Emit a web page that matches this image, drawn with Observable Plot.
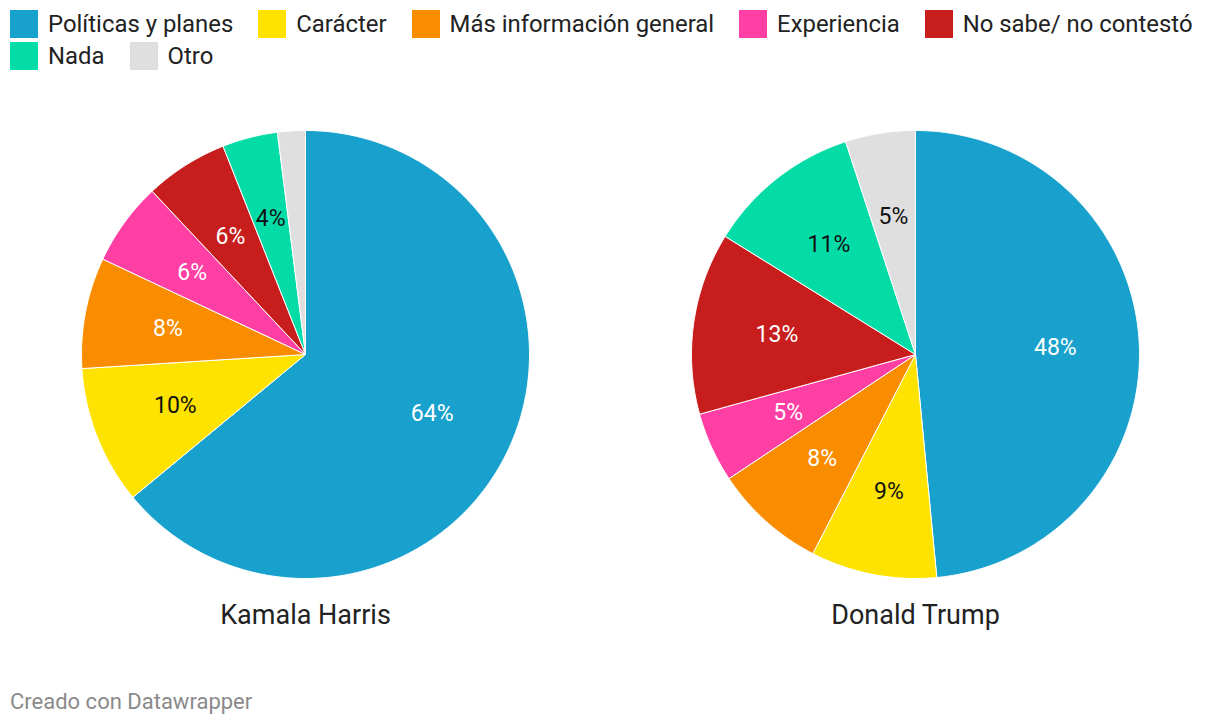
<!DOCTYPE html>
<html>
<head>
<meta charset="utf-8">
<script src="https://cdn.jsdelivr.net/npm/d3@7"></script>
<script src="https://cdn.jsdelivr.net/npm/@observablehq/plot@0.6"></script>
<style>
  body { margin: 0; background: #fff; font-family: Roboto, "Noto Sans", sans-serif; width: 1220px; height: 726px; position: relative; overflow: hidden; }
  #legend { position: absolute; left: 10px; top: 10px; width: 1210px; display: flex; flex-wrap: wrap; row-gap: 4px; column-gap: 25px; }
  .item { display: flex; align-items: center; height: 28px; font-size: 23.9px; color: #222; white-space: nowrap; }
  .sw { width: 28px; height: 28px; margin-right: 10px; flex: none; }
  #chart { position: absolute; left: 0; top: 80px; }
  #footer { position: absolute; left: 10px; top: 688px; font-size: 22px; color: #8a8a8a; line-height: 28px; }
</style>
</head>
<body>
<div id="legend"></div>
<div id="chart"></div>
<div id="footer">Creado con Datawrapper</div>
<script>
const categories = ["Políticas y planes", "Carácter", "Más información general", "Experiencia", "No sabe/ no contestó", "Nada", "Otro"];
const colors = ["#18a1cd", "#fee300", "#fa8c00", "#ff3fa4", "#c71e1d", "#04dca8", "#dfdfdf"];
const labelColors = ["#fff", "#111", "#fff", "#fff", "#fff", "#111", "#111"];
const candidates = ["Kamala Harris", "Donald Trump"];
const harrisValues = [64, 10, 8, 6, 6, 4, 2];
const trumpValues = [48, 9, 8, 5, 13, 11, 5];

// legend
const legend = document.getElementById("legend");
categories.forEach((c, i) => {
  const it = document.createElement("div");
  it.className = "item";
  it.innerHTML = `<div class="sw" style="background:${colors[i]}"></div><span>${c}</span>`;
  legend.appendChild(it);
});

const seriesValues = [harrisValues, trumpValues];
const polys = [];
const labels = [];
candidates.forEach((cand, ci) => {
  const rows = categories.map((c, i) => ({category: c, value: seriesValues[ci][i], i}));
  const arcs = d3.pie().sort(null).value(d => d.value).startAngle(0).endAngle(2 * Math.PI)(rows);
  arcs.forEach(a => {
    const key = cand + "|" + a.data.category;
    const steps = Math.max(2, Math.ceil((a.endAngle - a.startAngle) / 0.01));
    polys.push({candidate: cand, key, category: a.data.category, x: 0, y: 0});
    for (let s = 0; s <= steps; s++) {
      const t = a.startAngle + (a.endAngle - a.startAngle) * s / steps;
      polys.push({candidate: cand, key, category: a.data.category, x: Math.sin(t), y: Math.cos(t)});
    }
    polys.push({candidate: cand, key, category: a.data.category, x: 0, y: 0});
    const mid = (a.startAngle + a.endAngle) / 2;
    if (a.data.value >= 3) {
      labels.push({candidate: cand, text: a.data.value + "%", x: 0.625 * Math.sin(mid), y: 0.625 * Math.cos(mid), color: labelColors[a.data.i]});
    }
  });
});

const R = 224;
const halfW = 305 / R;
const plot = Plot.plot({
  width: 1220,
  height: 600,
  marginLeft: 0,
  marginRight: 0,
  marginTop: 50,
  marginBottom: 102,
  style: {fontFamily: "Roboto, sans-serif", background: "transparent"},
  fx: {domain: candidates, padding: 0, label: null},
  x: {domain: [-halfW, halfW], axis: null},
  y: {domain: [-1, 1], axis: null},
  color: {domain: categories, range: colors},
  marks: [
    Plot.line(polys, {fx: "candidate", x: "x", y: "y", z: "key", fill: "category", stroke: "white", strokeWidth: 1, strokeLinejoin: "round", curve: "linear"}),
    Plot.text(labels, {fx: "candidate", x: "x", y: "y", text: "text", fill: d => d.color, fontSize: 23}),
    Plot.axisFx({anchor: "bottom", tickSize: 0, tickPadding: 26, fontSize: 27, label: null, fill: "#222"})
  ]
});
document.getElementById("chart").appendChild(plot);
</script>
</body>
</html>
